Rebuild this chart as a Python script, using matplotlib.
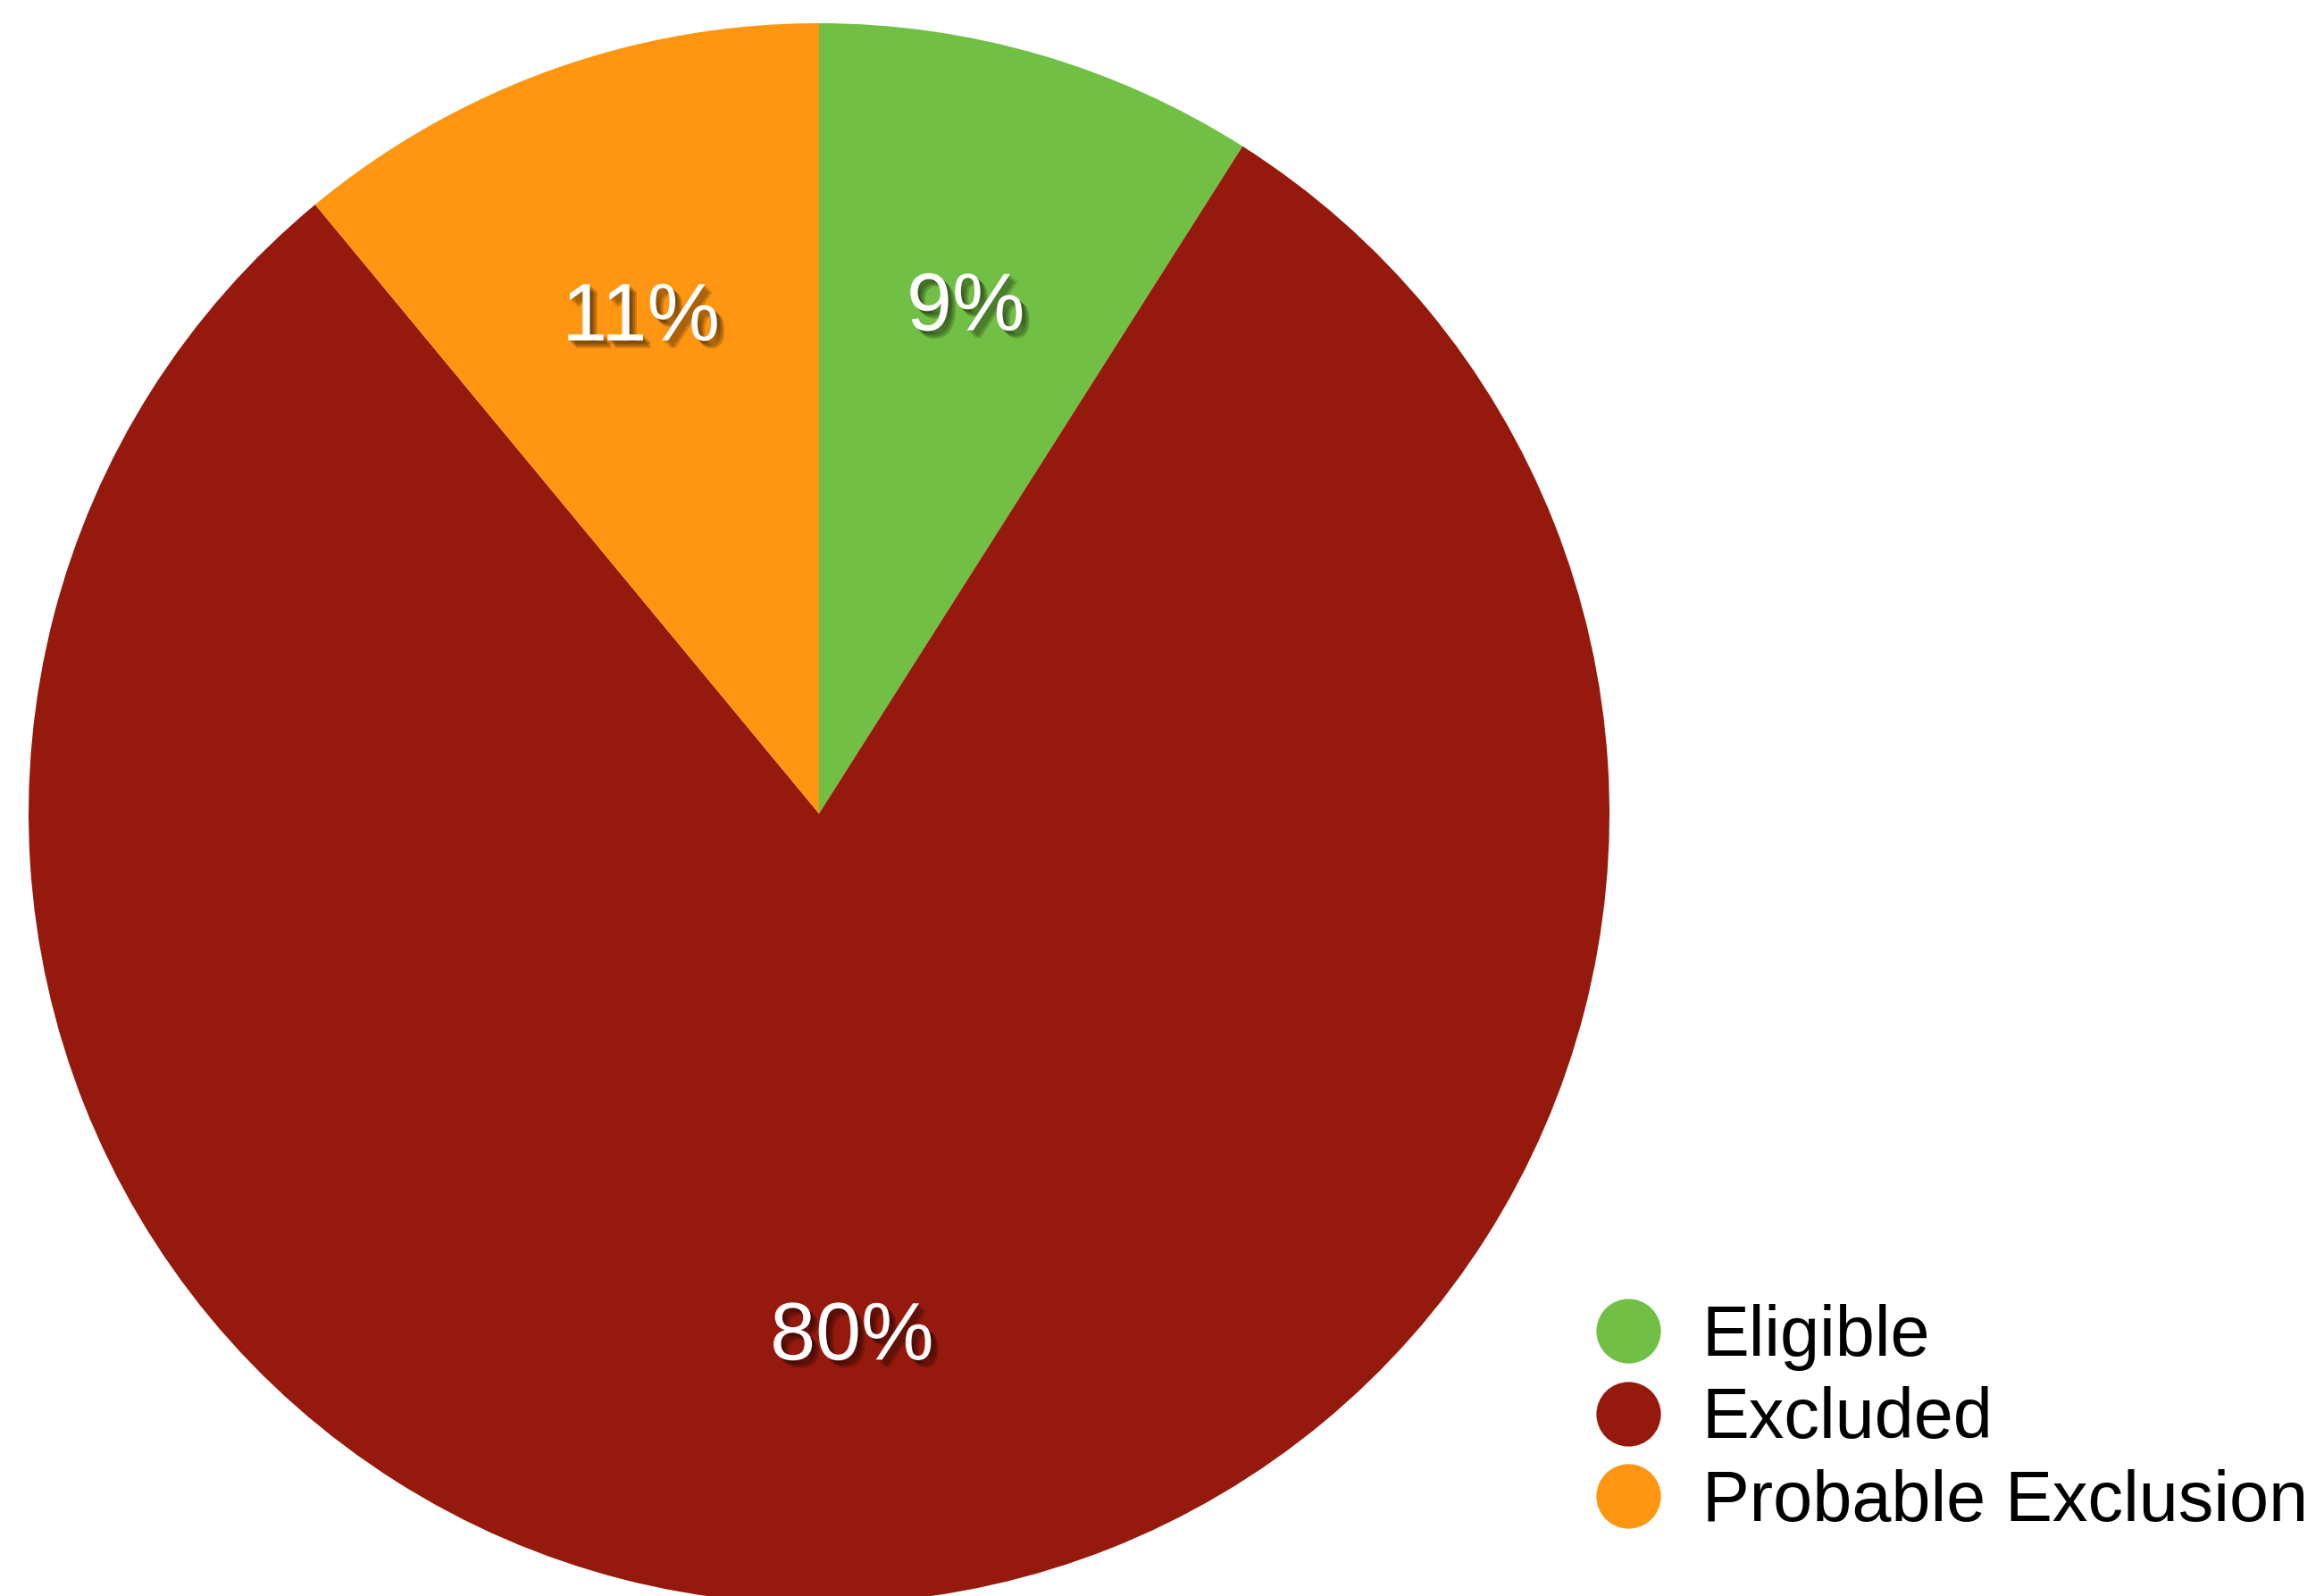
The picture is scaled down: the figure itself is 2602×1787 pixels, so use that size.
import matplotlib.pyplot as plt
import matplotlib.patheffects as pe
from matplotlib.lines import Line2D

plt.rcParams["font.family"] = ["Liberation Sans", "DejaVu Sans"]

# Study status breakdown
labels = ["Eligible", "Excluded", "Probable Exclusion"]
shares = [9, 80, 11]
colors = ["#71bf44", "#951a0d", "#ff9511"]

W, H = 2602, 1787
fig = plt.figure(figsize=(W / 100, H / 100), dpi=100)

# pie centred at (917, 911) px with radius 885 px
cx, cy, r = 917, 911, 885
ax = fig.add_axes([(cx - r) / W, (H - cy - r) / H, 2 * r / W, 2 * r / H])

wedges, texts, autotexts = ax.pie(
    shares, colors=colors, startangle=90, counterclock=False,
    autopct=lambda p: f"{p:.0f}%", pctdistance=0.665, radius=1,
    wedgeprops=dict(linewidth=0),
)
ax.set_xlim(-1, 1)
ax.set_ylim(-1, 1)
ax.set_aspect("equal")

# soft drop shadow under the white percentages
shadow = [pe.SimplePatchShadow(offset=(o, -o), shadow_rgbFace="black", alpha=0.18)
          for o in (1.5, 3, 4.5, 6)] + [pe.Normal()]
for t in autotexts:
    t.set_color("white")
    t.set_fontsize(66)
    t.set_path_effects(shadow)

handles = [Line2D([], [], marker="o", linestyle="none", markersize=52,
                  markerfacecolor=c, markeredgewidth=0) for c in colors]
fig.legend(handles, labels, loc="upper left", bbox_to_anchor=(1783 / W, 1 - 1460 / H),
           frameon=False, fontsize=57, handlelength=1.0, handletextpad=0.55,
           labelspacing=0.22, borderpad=0, borderaxespad=0)

fig.savefig("out.png", dpi=100)
